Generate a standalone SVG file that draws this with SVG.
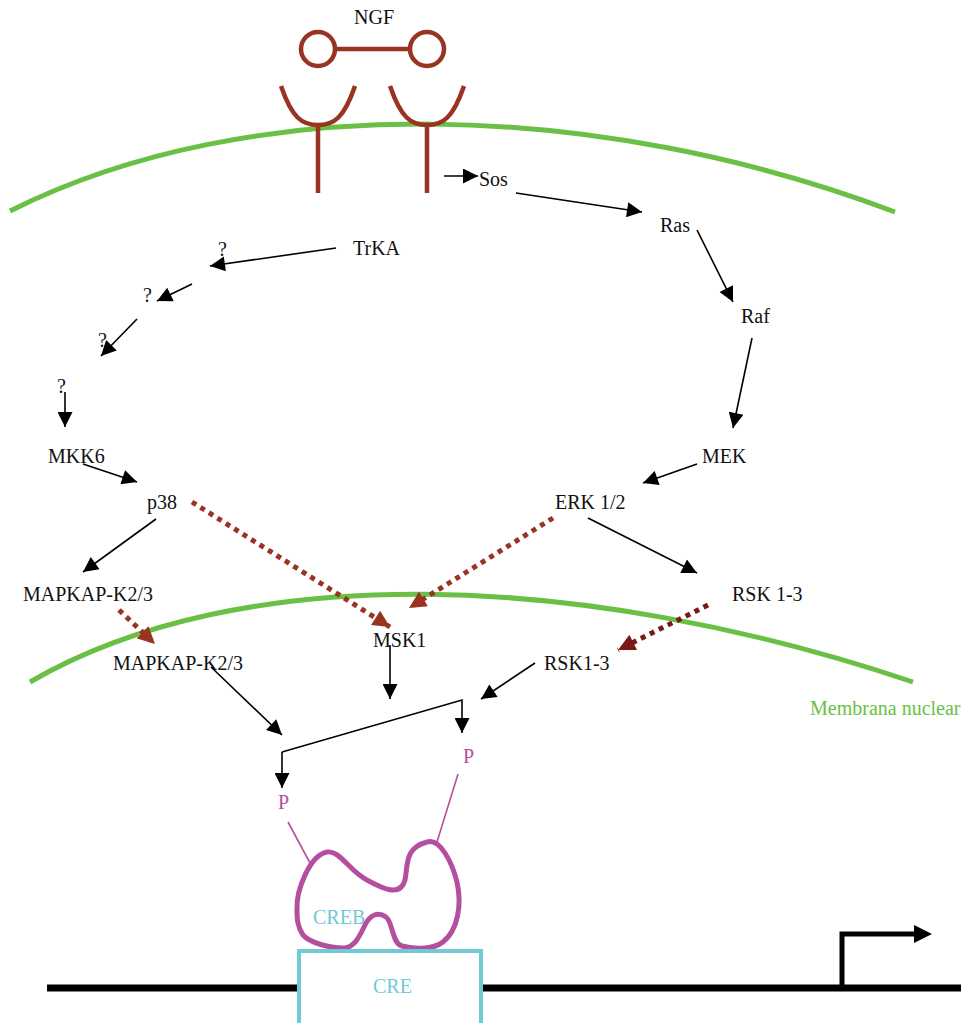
<svg xmlns="http://www.w3.org/2000/svg" width="961" height="1023" viewBox="0 0 961 1023">
  <style>
    text { font-family: "Liberation Serif", "Times New Roman", serif; font-size: 20px; fill: #111; }
    .mem { fill: none; stroke: #6abf45; stroke-width: 5; }
    .rec { fill: none; stroke: #993322; stroke-width: 4.5; }
    .arr { fill: none; stroke: #000; stroke-width: 1.6; marker-end: url(#ah); }
    .dot { fill: none; stroke: #993322; stroke-width: 5; stroke-dasharray: 5 5; marker-end: url(#bh); }
    .dot2 { fill: none; stroke: #7a1818; stroke-width: 5; stroke-dasharray: 5 5; marker-end: url(#dh); }
    .pink { fill: #b84f9e; }
    .cyan { fill: #6fcad6; }
    .green { fill: #6abf45; }
  </style>
  <defs>
    <marker id="ah" viewBox="0 0 10 10" refX="10" refY="5" markerWidth="18" markerHeight="15" markerUnits="userSpaceOnUse" orient="auto">
      <path d="M0,0 L10,5 L0,10 z" fill="#000"/>
    </marker>
    <marker id="bh" viewBox="0 0 10 10" refX="10" refY="5" markerWidth="18" markerHeight="17" markerUnits="userSpaceOnUse" orient="auto">
      <path d="M0,0 L10,5 L0,10 z" fill="#993322"/>
    </marker>
    <marker id="dh" viewBox="0 0 10 10" refX="10" refY="5" markerWidth="18" markerHeight="17" markerUnits="userSpaceOnUse" orient="auto">
      <path d="M0,0 L10,5 L0,10 z" fill="#7a1818"/>
    </marker>
  </defs>

  <!-- membranes -->
  <g id="plasma-membrane">
    <path class="mem" d="M10,211 C 250,90 600,100 895,212"/>
  </g>
  <g id="nuclear-membrane">
    <path class="mem" d="M30,682 C 240,560 580,570 913,682"/>
    <text class="green" x="810" y="715">Membrana nuclear</text>
  </g>

  <!-- NGF dimer and TrkA receptors -->
  <g id="ngf">
    <text x="354" y="24">NGF</text>
    <line class="rec" x1="336" y1="49" x2="409" y2="49"/>
    <circle class="rec" cx="318" cy="49" r="17"/>
    <circle class="rec" cx="427" cy="49" r="17"/>
  </g>
  <g id="receptor-left">
    <path class="rec" d="M281,86 C 292,118 302,125 318,125 C 334,125 344,118 355,86"/>
    <line class="rec" x1="318" y1="123" x2="318" y2="193"/>
  </g>
  <g id="receptor-right">
    <path class="rec" d="M390,86 C 401,118 411,125 427,125 C 443,125 453,118 464,86"/>
    <line class="rec" x1="427" y1="123" x2="427" y2="193"/>
  </g>

  <!-- pathway nodes -->
  <g id="trka"><text x="353" y="255">TrKA</text></g>
  <g id="q1"><text x="218" y="256">?</text></g>
  <g id="q2"><text x="143" y="302">?</text></g>
  <g id="q3"><text x="98" y="347">?</text></g>
  <g id="q4"><text x="57" y="393">?</text></g>
  <g id="mkk6"><text x="48" y="463">MKK6</text></g>
  <g id="p38"><text x="147" y="509">p38</text></g>
  <g id="sos"><text x="479" y="186">Sos</text></g>
  <g id="ras"><text x="660" y="232">Ras</text></g>
  <g id="raf"><text x="741" y="323">Raf</text></g>
  <g id="mek"><text x="702" y="463">MEK</text></g>
  <g id="erk"><text x="555" y="509">ERK 1/2</text></g>
  <g id="rsk-cyto"><text x="732" y="601">RSK 1-3</text></g>
  <g id="rsk-nuc"><text x="544" y="670">RSK1-3</text></g>
  <g id="msk1"><text x="373" y="647">MSK1</text></g>
  <g id="mapkap-cyto"><text x="23" y="601">MAPKAP-K2/3</text></g>
  <g id="mapkap-nuc"><text x="113" y="670">MAPKAP-K2/3</text></g>

  <!-- CREB bound to CRE -->
  <g id="creb">
    <line x1="288" y1="822" x2="310" y2="863" stroke="#b84f9e" stroke-width="1.6"/>
    <line x1="458" y1="774" x2="437" y2="842" stroke="#b84f9e" stroke-width="1.6"/>
    <text class="pink" x="278" y="809">P</text>
    <text class="pink" x="463" y="763">P</text>
    <path fill="none" stroke="#b44fa0" stroke-width="5" stroke-linejoin="round"
      d="M297,910 C 296,890 310,855 327,852 C 340,850 350,872 367,880 C 382,888 400,898 405,880 C 408,866 404,848 427,842 C 440,838 452,862 457,882 C 462,905 458,930 443,942 C 433,950 412,949 402,946 C 392,944 393,922 386,917 C 378,911 370,915 365,925 C 360,935 355,948 343,948 C 330,948 310,943 303,935 C 297,926 297,918 297,910 Z"/>
    <text class="cyan" x="313" y="924">CREB</text>
  </g>
  <g id="dna">
    <line x1="47" y1="988" x2="300" y2="988" stroke="#000" stroke-width="7"/>
    <line x1="480" y1="988" x2="961" y2="988" stroke="#000" stroke-width="7"/>
    <path d="M842,988 L842,934 L916,934" fill="none" stroke="#000" stroke-width="5"/>
    <path d="M914,925 L932,934 L914,943 z" fill="#000"/>
  </g>
  <g id="cre">
    <rect x="299" y="951" width="182" height="76" fill="#fff" stroke="#6fcad6" stroke-width="4"/>
    <text class="cyan" x="373" y="993">CRE</text>
  </g>

  <!-- connectors -->
  <g id="connectors">
    <line class="arr" x1="444" y1="176" x2="478" y2="176"/>
    <line class="arr" x1="516" y1="193" x2="642" y2="212"/>
    <line class="arr" x1="697" y1="230" x2="733" y2="302"/>
    <line class="arr" x1="752" y1="338" x2="733" y2="428"/>
    <line class="arr" x1="697" y1="464" x2="643" y2="483"/>
    <line class="arr" x1="588" y1="518" x2="697" y2="573"/>
    <line class="arr" x1="336" y1="248" x2="210" y2="266"/>
    <line class="arr" x1="192" y1="284" x2="157" y2="301"/>
    <line class="arr" x1="137" y1="319" x2="101" y2="356"/>
    <line class="arr" x1="65" y1="392" x2="65" y2="427"/>
    <line class="arr" x1="83" y1="464" x2="137" y2="482"/>
    <line class="arr" x1="156" y1="519" x2="83" y2="572"/>
    <line class="arr" x1="390" y1="645" x2="390" y2="699"/>
    <line class="arr" x1="211" y1="667" x2="282" y2="735"/>
    <line class="arr" x1="535" y1="663" x2="481" y2="699"/>
    <path class="arr" d="M282,752 L462,700 L462,733"/>
    <path class="arr" d="M282,752 L282,788"/>
    <line class="dot" x1="192" y1="502" x2="390" y2="627"/>
    <line class="dot" x1="553" y1="518" x2="409" y2="608"/>
    <line class="dot" x1="119" y1="610" x2="155" y2="644"/>
    <line class="dot2" x1="708" y1="605" x2="618" y2="650"/>
  </g>
</svg>
